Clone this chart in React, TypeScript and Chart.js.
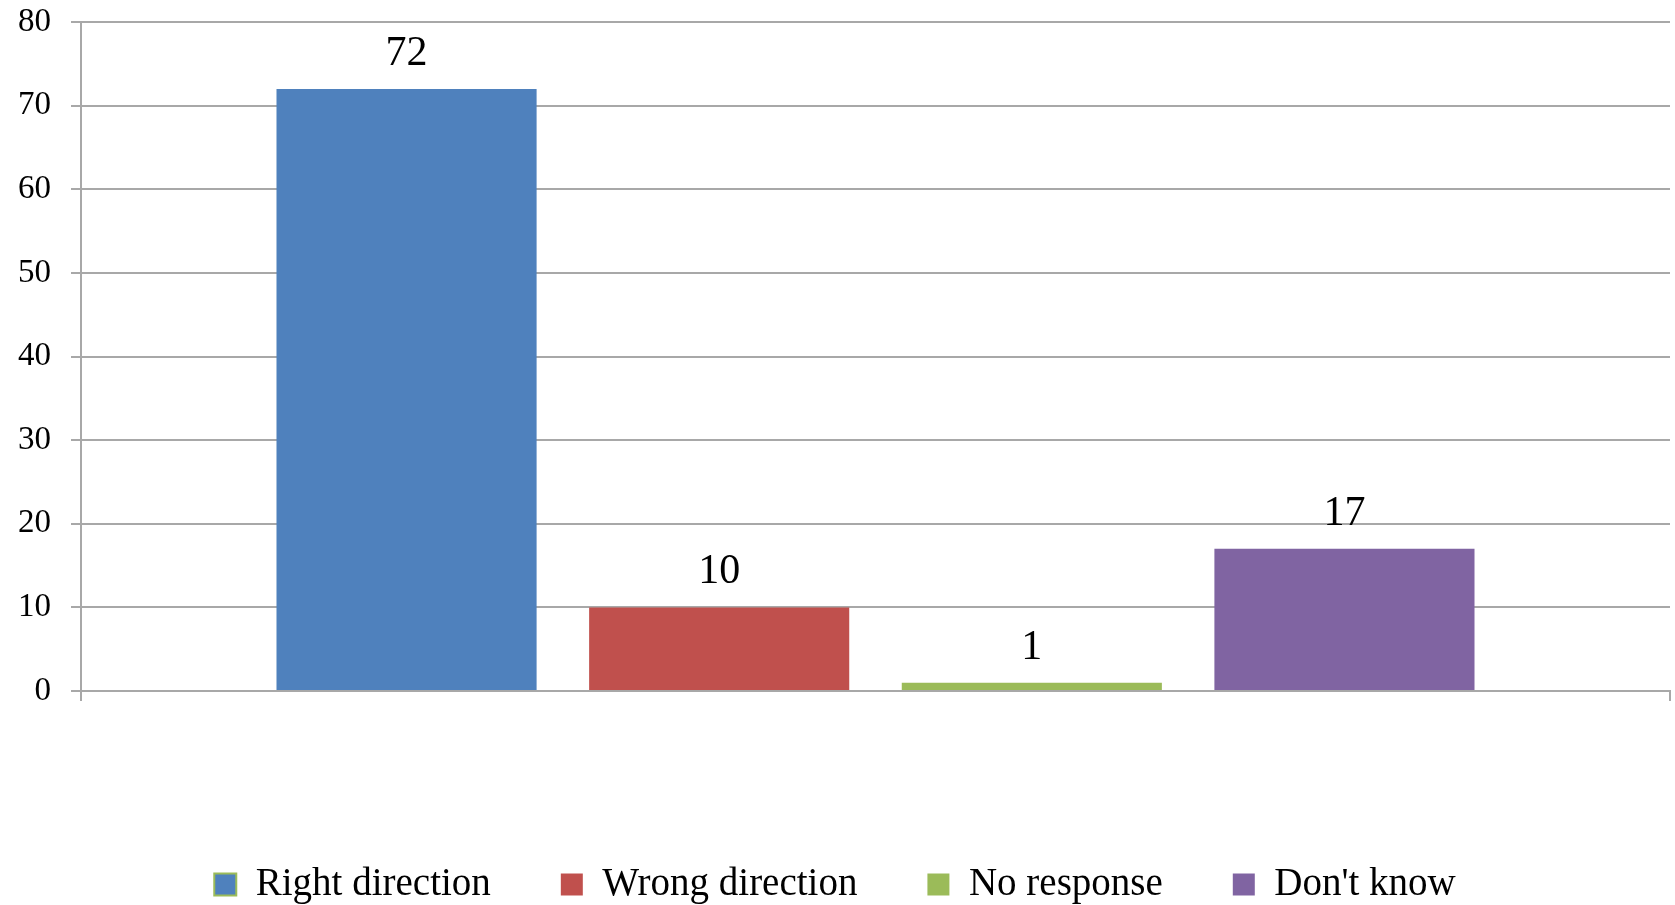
import React, { useEffect, useRef } from 'react';
import { Chart, registerables } from 'chart.js';

Chart.register(...registerables);

// ---- data ----
const categories: string[] = [''];
const seriesNames: string[] = ['Right direction', 'Wrong direction', 'No response', "Don't know"];
const rightDirection: number[] = [72];
const wrongDirection: number[] = [10];
const noResponse: number[] = [1];
const dontKnow: number[] = [17];
const seriesColors: string[] = ['#4F81BD', '#C0504D', '#9BBB59', '#8064A2'];
const yMin = 0;
const yMax = 80;
const yStep = 10;

const FONT = '"Liberation Serif", "Times New Roman", serif';
const GRID = '#a8a8a8';

const valueLabels = {
  id: 'valueLabels',
  afterDatasetsDraw(chart: any) {
    const ctx = chart.ctx;
    ctx.save();
    ctx.font = `42px ${FONT}`;
    ctx.fillStyle = '#000';
    ctx.textAlign = 'center';
    ctx.textBaseline = 'alphabetic';
    chart.data.datasets.forEach((ds: any, i: number) => {
      const meta = chart.getDatasetMeta(i);
      meta.data.forEach((bar: any, j: number) => {
        ctx.fillText(String(ds.data[j]), bar.x, bar.y - 24);
      });
    });
    ctx.restore();
  },
};

const legendShift = {
  id: 'legendShift',
  afterLayout(chart: any) {
    const l = chart.legend;
    if (l) {
      l.top += 9;
      l.bottom += 9;
    }
  },
};

export default function App() {
  const canvasRef = useRef<HTMLCanvasElement | null>(null);

  useEffect(() => {
    const canvas = canvasRef.current;
    if (!canvas) return;
    const seriesData = [rightDirection, wrongDirection, noResponse, dontKnow];
    const chart = new Chart(canvas, {
      type: 'bar',
      data: {
        labels: categories,
        datasets: seriesNames.map((name, i) => ({
          label: name,
          data: seriesData[i],
          backgroundColor: seriesColors[i],
          borderWidth: 0,
          categoryPercentage: 0.787,
          barPercentage: 0.832,
        })),
      },
      options: {
        responsive: false,
        animation: false,
        devicePixelRatio: 1,
        layout: { autoPadding: false, padding: { left: 0, right: 5, top: 22, bottom: 0 } },
        plugins: {
          tooltip: { enabled: false },
          legend: {
            position: 'bottom',
            align: 'center',
            labels: {
              color: '#000',
              font: { family: FONT, size: 39 },
              boxWidth: 22,
              boxHeight: 22,
              padding: 70,
              generateLabels(chart: any) {
                return chart.data.datasets.map((ds: any, i: number) => ({
                  text: ds.label,
                  fillStyle: seriesColors[i],
                  strokeStyle: i === 0 ? '#9BBB59' : seriesColors[i],
                  lineWidth: i === 0 ? 2 : 0,
                  fontColor: '#000',
                  hidden: false,
                  datasetIndex: i,
                }));
              },
            },
          },
        },
        scales: {
          x: {
            offset: true,
            ticks: { display: false },
            grid: {
              display: true,
              drawOnChartArea: false,
              drawTicks: true,
              tickLength: 10,
              offset: true,
              color: GRID,
              lineWidth: 2,
            },
            border: { display: true, color: GRID, width: 2 },
            afterFit(scale: any) {
              scale.height = 95;
            },
          },
          y: {
            min: yMin,
            max: yMax,
            ticks: {
              stepSize: yStep,
              color: '#000',
              font: { family: FONT, size: 33 },
              padding: 20,
            },
            grid: {
              color: GRID,
              lineWidth: 2,
              drawTicks: true,
              tickLength: 10,
            },
            border: { display: true, color: GRID, width: 2 },
            afterFit(scale: any) {
              scale.width = 81;
              scale.paddingTop = 0;
              scale.paddingBottom = 0;
            },
          },
        },
      },
      plugins: [valueLabels, legendShift],
    });
    return () => chart.destroy();
  }, []);

  return (
    <canvas
      ref={canvasRef}
      width={1675}
      height={905}
      style={{ position: 'absolute', left: 0, top: 0, width: 1675, height: 905, display: 'block' }}
    />
  );
}
